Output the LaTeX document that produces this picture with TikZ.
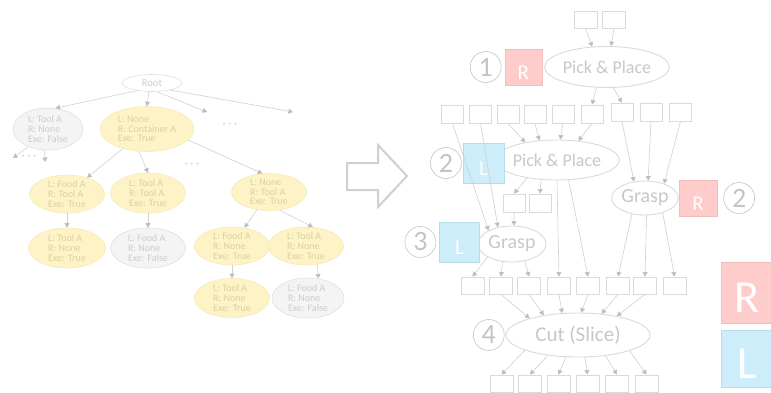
\documentclass[tikz,border=0pt]{standalone}
\usepackage{fontspec}
\setmainfont{Carlito}
\usetikzlibrary{arrows.meta,positioning,shapes.geometric}

\definecolor{linegray}{HTML}{D0D0D0}
\definecolor{tipgray}{HTML}{BDBDBD}
\definecolor{boxgray}{HTML}{DADADA}
\definecolor{labelgray}{HTML}{C8C8C8}
\definecolor{numgray}{HTML}{C4C4C4}
\definecolor{rpink}{HTML}{FFCCCC}
\definecolor{rline}{HTML}{F0BDBD}
\definecolor{lblue}{HTML}{CCEDF9}
\definecolor{lline}{HTML}{B9DCEA}
\definecolor{yelfill}{HTML}{FDF3C6}
\definecolor{yelline}{HTML}{F6EAB8}
\definecolor{yeltext}{HTML}{DAD1A0}
\definecolor{grayfill}{HTML}{F4F4F4}
\definecolor{grayline}{HTML}{E0E0E0}
\definecolor{graytext}{HTML}{CCCCCC}

\begin{document}
\begin{tikzpicture}[
    x = 1pt, y = -1pt, % one unit per pixel, going down
    > = {Triangle[width=5pt,length=4.5pt,color=tipgray]}, % arrow head style
    semithick % line style
    ]

    \tikzset{
    flow/.style = {->, color=linegray},
    sbox/.style = {draw=boxgray, line width=0.9pt, fill=white, minimum width=22pt, minimum height=18pt, inner sep=0pt},
    act/.style = {ellipse, draw=boxgray, line width=0.9pt, fill=white, text=labelgray, inner sep=0pt},
    hand/.style = {text=white, inner sep=0pt, font=\fontsize{21}{21}\selectfont, text height=25pt, text depth=0pt},
    rhand/.style = {hand, fill=rpink, draw=rline},
    lhand/.style = {hand, fill=lblue, draw=lline},
    bighand/.style = {font=\fontsize{46}{46}\selectfont, text height=39pt, minimum width=52pt, minimum height=61pt},
    ord/.style = {circle, draw=numgray, text=numgray, minimum size=31pt, inner sep=0pt, font=\fontsize{28}{28}\selectfont},
    tnode/.style = {ellipse, align=left, inner xsep=0pt, inner ysep=-3.5pt, font=\fontsize{10}{9.8}\selectfont},
    done/.style = {tnode, fill=yelfill, draw=yelline, text=yeltext},
    fail/.style = {tnode, fill=grayfill, draw=grayline, text=graytext},
    dots/.style = {text=labelgray, font=\fontsize{12}{12}\selectfont}
    }
    \useasboundingbox (0,0) rectangle (771,392);

    % search tree
    \node[ellipse, draw=grayline, fill=white, text=graytext, inner sep=0pt, minimum width=59pt, minimum height=17pt, font=\fontsize{10.5}{10.5}\selectfont] (root) at (152,83) {Root};
    \node[fail, minimum width=70pt, minimum height=42pt] (ta) at (48,129) {L: Tool A\\R: None\\Exe: False};
    \node[done, minimum width=94pt, minimum height=45pt] (tb) at (147,129) {L: None\\R: Container A\\Exe: True};
    \node[done, minimum width=75pt, minimum height=38pt] (tb1) at (67,194) {L: Food A\\R: Tool A\\Exe: True};
    \node[done, minimum width=75pt, minimum height=40pt] (tb2) at (148,193) {L: Tool A\\R: Tool A\\Exe: True};
    \node[done, minimum width=75pt, minimum height=37pt] (tb3) at (269,192) {L: None\\R: Tool A\\Exe: True};
    \node[done, minimum width=77pt, minimum height=40pt] (tb11) at (67,248) {L: Tool A\\R: None\\Exe: True};
    \node[fail, minimum width=75pt, minimum height=40pt] (tb21) at (148,248) {L: Food A\\R: None\\Exe: False};
    \node[done, minimum width=75pt, minimum height=38pt] (tb31) at (232,246) {L: Food A\\R: None\\Exe: True};
    \node[done, minimum width=75pt, minimum height=38pt] (tb32) at (306,246) {L: Tool A\\R: None\\Exe: True};
    \node[done, minimum width=75pt, minimum height=39pt] (tb311) at (232,298) {L: Tool A\\R: None\\Exe: True};
    \node[fail, minimum width=72pt, minimum height=40pt] (tb321) at (308,298) {L: Food A\\R: None\\Exe: False};

    \node[dots] (m1) at (230,125) {· · ·};
    \node[dots] (m2) at (192,165) {· · ·};
    \node[dots] (m3) at (29,157) {· · ·};
    \coordinate (d1) at (207,112);
    \coordinate (d2) at (293,112);
    \coordinate (a1) at (13,158);
    \coordinate (a2) at (45,162);

    \path[flow] (root.207) edge (ta.70)
                (root.250) edge (tb.north)
                (root.299) edge (d1)
                (root.339) edge (d2);
    \path[flow] (ta.222) edge (a1)
                (ta.261) edge (a2);
    \path[flow] (tb) edge (tb1)
                (tb.250) edge (tb2.north)
                (tb.345) edge (tb3.110);
    \path[flow] (tb1) edge (tb11);
    \path[flow] (tb2) edge (tb21);
    \path[flow] (tb3) edge (tb31)
                (tb3.300) edge (tb32.70);
    \path[flow] (tb31) edge (tb311);
    \path[flow] (tb32.302) edge (tb321.62);

    % hollow arrow
    \draw[linegray, line width=2pt, line join=miter] (347,163) -- (378,163) -- (378,145) -- (407,176)
        -- (378,207) -- (378,190) -- (347,190) -- cycle;

    % task graph
    \node[sbox, minimum width=23pt, minimum height=17pt] (t1) at (585.5,19.5) {};
    \node[sbox, minimum width=23pt, minimum height=17pt] (t2) at (614,19.5) {};
    \node[act, minimum width=106pt, minimum height=41pt, font=\fontsize{18}{18}\selectfont] (pp1) at (607,67) {Pick \& Place};
    \node[rhand, minimum width=37pt, minimum height=36pt] (h1) [left=2pt of pp1] {R};
    \node[ord] (o1) [left=3pt of h1] {1};

    \node[sbox] (b1) at (452.5,114) {};
    \node[sbox] (b2) at (480.5,114) {};
    \node[sbox] (b3) at (508,114) {};
    \node[sbox] (b4) at (535,114) {};
    \node[sbox] (b5) at (563,114) {};
    \node[sbox] (b6) at (592,114) {};
    \node[sbox] (b7) at (622,112) {};
    \node[sbox] (b8) at (651,112) {};
    \node[sbox] (b9) at (680.5,112) {};

    \node[act, minimum width=114pt, minimum height=40pt, font=\fontsize{18}{18}\selectfont] (pp2) at (557,160) {Pick \& Place};
    \node[lhand, minimum width=41pt, minimum height=40pt] (h2) at (483.5,163) {L};
    \node[ord] (o2) [left=1pt of h2] {2};

    \node[act, minimum width=66pt, minimum height=34pt, font=\fontsize{20}{20}\selectfont] (gR) at (645,198) {Grasp};
    \node[rhand, minimum width=38pt, minimum height=36pt] (h4) [right=0pt of gR] {R};
    \node[ord] (o5) [right=6pt of h4] {2};

    \node[sbox] (s1) at (514,203) {};
    \node[sbox] (s2) at (540,203) {};

    \node[act, minimum width=68pt, minimum height=36pt, font=\fontsize{20}{20}\selectfont] (gL) at (512,244) {Grasp};
    \node[lhand, minimum width=40pt, minimum height=40pt] (h3) at (459.5,242) {L};
    \node[ord] (o3) [left=3pt of h3] {3};

    \node[sbox, minimum width=23pt, minimum height=17pt] (r1) at (472.5,285.5) {};
    \node[sbox, minimum width=23pt, minimum height=17pt] (r2) at (501,285.5) {};
    \node[sbox, minimum width=23pt, minimum height=17pt] (r3) at (529,285.5) {};
    \node[sbox, minimum width=23pt, minimum height=17pt] (r4) at (559,285.5) {};
    \node[sbox, minimum width=23pt, minimum height=17pt] (r5) at (588,285.5) {};
    \node[sbox, minimum width=23pt, minimum height=17pt] (r6) at (618,285.5) {};
    \node[sbox, minimum width=23pt, minimum height=17pt] (r7) at (645,285.5) {};
    \node[sbox, minimum width=23pt, minimum height=17pt] (r8) at (674.5,285.5) {};

    \node[act, minimum width=144pt, minimum height=44pt, font=\fontsize{21}{21}\selectfont] (cut) at (578,335) {Cut (Slice)};
    \node[ord] (o4) [left=1pt of cut] {4};

    \node[sbox, minimum width=23pt, minimum height=17pt] (e1) at (501.5,383.5) {};
    \node[sbox, minimum width=23pt, minimum height=17pt] (e2) at (530,383.5) {};
    \node[sbox, minimum width=23pt, minimum height=17pt] (e3) at (558.5,383.5) {};
    \node[sbox, minimum width=23pt, minimum height=17pt] (e4) at (587.5,383.5) {};
    \node[sbox, minimum width=23pt, minimum height=17pt] (e5) at (617,383.5) {};
    \node[sbox, minimum width=23pt, minimum height=17pt] (e6) at (646.5,383.5) {};

    \path[flow] (t1.south) edge (pp1.126)
                (t2.south) edge (pp1.79);
    \path[flow] (pp1.243) edge (b6.north)
                (pp1.287) edge (b7.north);
    \path[flow] (b3.south) edge (pp2.151)
                (b4.south) edge (pp2.132)
                (b5.south) edge (pp2.81)
                (b6.south) edge (pp2.42);
    \path[flow] (b7.south) edge (gR.124)
                (b8.south) edge (gR.80)
                (b9.south) edge (gR.37);
    \path[flow] (pp2.211) edge (s1.north)
                (pp2.231) edge (s2.north);
    \path[flow] (b1.south) edge (gL.150)
                (b2.south) edge (gL.130)
                (s1.south) edge (gL.84);
    \path[flow] (gL.208) edge (r1.north)
                (gL.242) edge (r2.north)
                (gL.307) edge (r3.north);
    \path[flow] (pp2.270) edge (r4.north)
                (pp2.300) edge (r5.north);
    \path[flow] (gR.231) edge (r6.north)
                (gR.275) edge (r7.north)
                (gR.320) edge (r8.north);
    \path[flow] (r2.south) edge (cut.161)
                (r3.south) edge (cut.150)
                (r4.south) edge (cut.126)
                (r5.south) edge (cut.82)
                (r6.south) edge (cut.42)
                (r7.south) edge (cut.26);
    \path[flow] (cut.196) edge (e1.north)
                (cut.214) edge (e2.north)
                (cut.241) edge (e3.north)
                (cut.287) edge (e4.north)
                (cut.323) edge (e5.north)
                (cut.343) edge (e6.north);

    % legend
    \node[rhand, bighand] (kr) at (747,292.5) {R};
    \node[lhand, bighand, minimum height=57pt] (kl) at (747,358.5) {L};
\end{tikzpicture}
\end{document}
